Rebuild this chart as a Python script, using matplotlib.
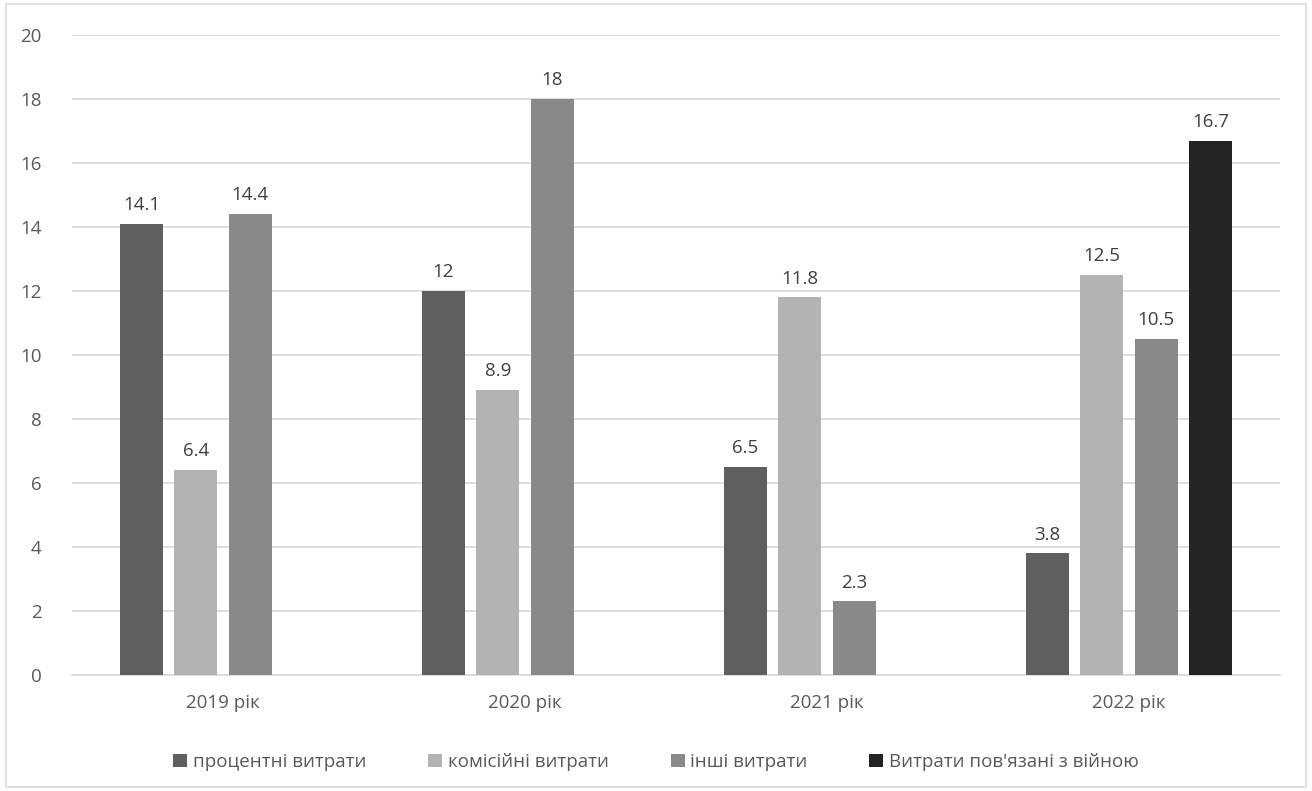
import numpy as np
import matplotlib.pyplot as plt
from matplotlib.patches import Rectangle

plt.rcParams['font.family'] = ['Open Sans', 'DejaVu Sans']

years = ['2019 рік', '2020 рік', '2021 рік', '2022 рік']
series_names = ['процентні витрати', 'комісійні витрати', 'інші витрати',
                'Витрати пов\'язані з війною']
interest = [14.1, 12, 6.5, 3.8]
commission = [6.4, 8.9, 11.8, 12.5]
other = [14.4, 18, 2.3, 10.5]
war = [np.nan, np.nan, np.nan, 16.7]
colors = ['#5f5f5f', '#b3b3b3', '#898989', '#232323']

W, H = 1312, 791
fig = plt.figure(figsize=(W / 100, H / 100), dpi=100)
ax = fig.add_axes([72 / W, 1 - 675 / H, (1280 - 72) / W, (675 - 35) / H])

text_col = '#595959'
grid_col = '#d9d9d9'
fs = 13.5
x = np.arange(len(years))
step = 0.18
width = 0.143

for j, (vals, name) in enumerate(zip([interest, commission, other, war], series_names)):
    pos = x + (j - 1.5) * step
    ax.bar(pos, vals, width, color=colors[j], label=name, zorder=3)
    for p, v in zip(pos, vals):
        if np.isnan(v):
            continue
        ax.annotate(f'{v:g}', (p, v), xytext=(0, 7), textcoords='offset points',
                    ha='center', va='bottom', fontsize=fs, color='#404040')

ax.set_xlim(-0.5, 3.5)
ax.set_ylim(0, 20)
ax.set_yticks(range(0, 21, 2))
ax.set_xticks(x)
ax.set_xticklabels(years)
ax.yaxis.grid(True, color=grid_col, linewidth=1.2, zorder=0)
for s in ['top', 'right', 'left']:
    ax.spines[s].set_visible(False)
ax.spines['bottom'].set_color(grid_col)
ax.spines['bottom'].set_linewidth(1.2)
ax.tick_params(axis='both', length=0, labelsize=fs, labelcolor=text_col)
ax.tick_params(axis='y', pad=22)
ax.tick_params(axis='x', pad=14)

fig.legend(loc='center', bbox_to_anchor=(0.5, 1 - 762 / H), ncol=4, frameon=False,
           fontsize=fs, labelcolor=text_col, handlelength=0.75, handleheight=0.75,
           handletextpad=0.3, columnspacing=3.3)

fig.patches.append(Rectangle((6 / W, 4 / H), (1306 - 6) / W, (787 - 4) / H,
                             transform=fig.transFigure, fill=False,
                             edgecolor=grid_col, linewidth=1.2))

fig.savefig('out.png', dpi=100)
